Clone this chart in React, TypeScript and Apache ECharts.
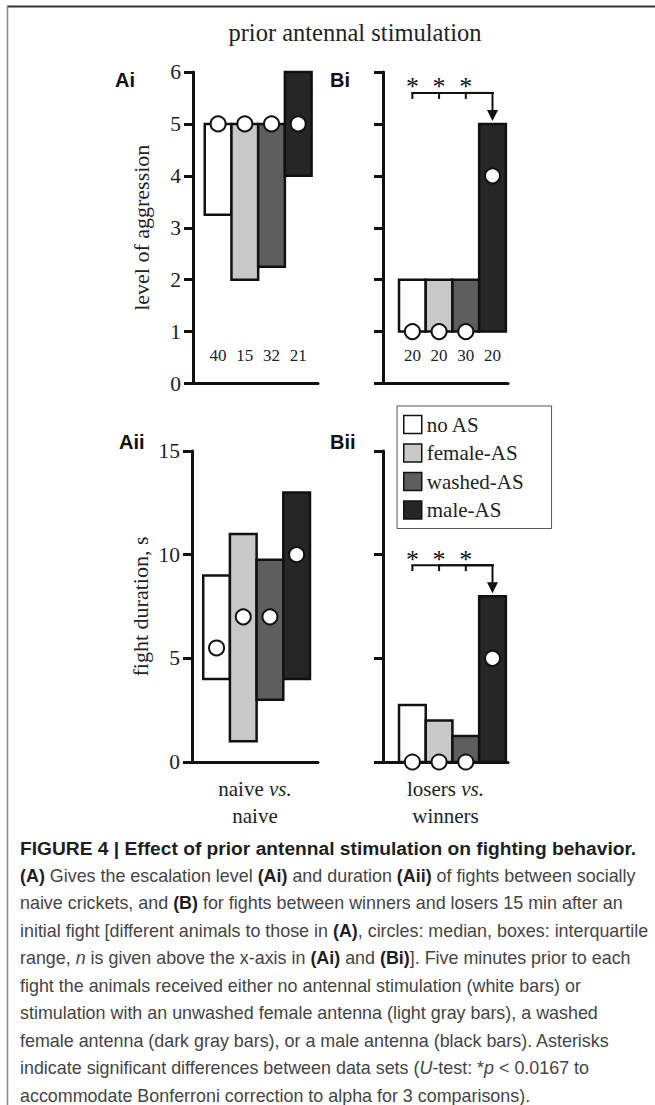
import React, { useEffect, useRef } from "react";
import * as echarts from "echarts";

// ---------- data ----------
const groups = ["no AS", "female-AS", "washed-AS", "male-AS"];
const groupColors = ["#ffffff", "#c8c8c8", "#5e5e5e", "#262626"];

// Ai: level of aggression, naive vs. naive
const aiQ1 = [3.25, 2, 2.25, 4];
const aiQ3 = [5, 5, 5, 6];
const aiMedian = [5, 5, 5, 5];
const aiN = [40, 15, 32, 21];

// Bi: level of aggression, losers vs. winners
const biQ1 = [1, 1, 1, 1];
const biQ3 = [2, 2, 2, 5];
const biMedian = [1, 1, 1, 4];
const biN = [20, 20, 30, 20];
const biSig = [0, 1, 2]; // groups significantly different from male-AS

// Aii: fight duration (s), naive vs. naive
const aiiQ1 = [4, 1, 3, 4];
const aiiQ3 = [9, 11, 9.75, 13];
const aiiMedian = [5.5, 7, 7, 10];

// Bii: fight duration (s), losers vs. winners
const biiQ1 = [0, 0, 0, 0];
const biiQ3 = [2.75, 2, 1.25, 8];
const biiMedian = [0, 0, 0, 5];
const biiSig = [0, 1, 2];

const aggressionAxis = { min: 0, max: 6, interval: 1 };
const durationAxis = { min: 0, max: 15, interval: 5 };

const captionLines = [
  "{h|FIGURE 4 | Effect of prior antennal stimulation on fighting behavior.}",
  "{b|(A)} Gives the escalation level {b|(Ai)} and duration {b|(Aii)} of fights between socially",
  "naive crickets, and {b|(B)} for fights between winners and losers 15 min after an",
  "initial fight [different animals to those in {b|(A)}, circles: median, boxes: interquartile",
  "range, {i|n} is given above the x-axis in {b|(Ai)} and {b|(Bi)}]. Five minutes prior to each",
  "fight the animals received either no antennal stimulation (white bars) or",
  "stimulation with an unwashed female antenna (light gray bars), a washed",
  "female antenna (dark gray bars), or a male antenna (black bars). Asterisks",
  "indicate significant differences between data sets ({i|U}-test: *{i|p} < 0.0167 to",
  "accommodate Bonferroni correction to alpha for 3 comparisons).",
];

const SERIF = "'Liberation Serif', 'Times New Roman', serif";
const SANS = "'Liberation Sans', Arial, sans-serif";
const INK = "#111";
const CAP = 17.9;

function buildOption() {
  const panels = [
    { q1: aiQ1, q3: aiQ3, med: aiMedian, n: aiN as number[] | null, sig: [] as number[], axis: aggressionAxis },
    { q1: biQ1, q3: biQ3, med: biMedian, n: biN as number[] | null, sig: biSig, axis: aggressionAxis },
    { q1: aiiQ1, q3: aiiQ3, med: aiiMedian, n: null, sig: [] as number[], axis: durationAxis },
    { q1: biiQ1, q3: biiQ3, med: biiMedian, n: null, sig: biiSig, axis: durationAxis },
  ];
  const grid = [
    { left: 193, top: 72, width: 125, height: 311.5 },
    { left: 383, top: 72, width: 125, height: 311.5 },
    { left: 192, top: 451, width: 126, height: 311 },
    { left: 383, top: 451, width: 125, height: 311 },
  ];
  const xRanges = [
    [-0.94, 3.74],
    [-1.1, 3.58],
    [-0.92, 3.8],
    [-1.1, 3.58],
  ];
  const xNames = ["", "", "naive {i|vs.}\nnaive", "losers {i|vs.}\nwinners"];
  const yNames = ["level of aggression", "", "fight duration, s", ""];

  const xAxis = grid.map((_, i) => ({
    type: "value",
    gridIndex: i,
    min: xRanges[i][0],
    max: xRanges[i][1],
    axisLine: { show: true, onZero: false, lineStyle: { color: INK, width: 3 } },
    axisTick: { show: false },
    axisLabel: { show: false },
    splitLine: { show: false },
    name: xNames[i],
    nameLocation: "middle",
    nameGap: 13,
    nameTextStyle: {
      fontFamily: SERIF,
      fontSize: 21,
      color: "#222",
      lineHeight: 27,
      rich: { i: { fontFamily: SERIF, fontSize: 21, fontStyle: "italic", color: "#222", lineHeight: 27 } },
    },
  }));

  const yAxis = grid.map((_, i) => ({
    type: "value",
    gridIndex: i,
    min: panels[i].axis.min,
    max: panels[i].axis.max,
    interval: panels[i].axis.interval,
    axisLine: { show: true, onZero: false, lineStyle: { color: INK, width: 3 } },
    axisTick: { show: true, length: 9, lineStyle: { color: INK, width: 3 } },
    axisLabel: { show: i === 0 || i === 2, margin: 12, fontFamily: SERIF, fontSize: 21.5, color: "#222" },
    splitLine: { show: false },
    name: yNames[i],
    nameLocation: "middle",
    nameGap: 41,
    nameRotate: 90,
    nameTextStyle: { fontFamily: SERIF, fontSize: 22, color: "#222" },
  }));

  const series: any[] = [];
  panels.forEach((p, pi) => {
    groups.forEach((g, gi) => {
      series.push({
        type: "custom",
        name: g,
        xAxisIndex: pi,
        yAxisIndex: pi,
        itemStyle: { color: groupColors[gi], borderColor: INK },
        data: [[gi, p.q1[gi], p.q3[gi]]],
        encode: { x: 0, y: [1, 2] },
        z: 2,
        silent: true,
        renderItem: (params: any, api: any) => {
          const x = api.value(0);
          const top = api.coord([x, api.value(2)]);
          const bot = api.coord([x, api.value(1)]);
          const w = api.size([1, 0])[0];
          return {
            type: "rect",
            shape: { x: top[0] - w / 2, y: top[1], width: w, height: bot[1] - top[1] },
            style: { fill: groupColors[gi], stroke: INK, lineWidth: 2.5 },
          };
        },
      });
    });
    series.push({
      type: "scatter",
      xAxisIndex: pi,
      yAxisIndex: pi,
      data: p.med.map((m, gi) => [gi, m]),
      symbol: "circle",
      symbolSize: 15,
      itemStyle: { color: "#fff", borderColor: INK, borderWidth: 2, opacity: 1 },
      z: 5,
      silent: true,
    });
    if (p.n) {
      const nArr = p.n;
      series.push({
        type: "custom",
        xAxisIndex: pi,
        yAxisIndex: pi,
        data: nArr.map((n, gi) => [gi, 0, n]),
        encode: { x: 0, y: 1 },
        z: 6,
        silent: true,
        renderItem: (params: any, api: any) => {
          const pt = api.coord([api.value(0), api.value(1)]);
          return {
            type: "text",
            x: pt[0],
            y: pt[1] - 28,
            style: {
              text: String(api.value(2)),
              align: "center",
              verticalAlign: "middle",
              fontFamily: SERIF,
              fontSize: 17,
              fill: "#222",
            },
          };
        },
      });
    }
    if (p.sig.length) {
      const target = 3;
      series.push({
        type: "custom",
        xAxisIndex: pi,
        yAxisIndex: pi,
        data: p.sig.map((gi) => [gi, target, p.q3[target]]),
        encode: { x: 0, y: 2 },
        z: 6,
        silent: true,
        renderItem: (params: any, api: any) => {
          const src = api.coord([api.value(0), api.value(2)]);
          const tgt = api.coord([api.value(1), api.value(2)]);
          const by = tgt[1] - 31;
          const ls = { stroke: INK, lineWidth: 2 };
          const children: any[] = [
            { type: "line", shape: { x1: src[0] - 1, y1: by, x2: tgt[0] + 1, y2: by }, style: ls },
            { type: "line", shape: { x1: src[0], y1: by, x2: src[0], y2: by + 6 }, style: ls },
            {
              type: "text",
              x: src[0],
              y: by - 6,
              style: { text: "*", align: "center", verticalAlign: "middle", fontFamily: SERIF, fontSize: 26, fill: INK },
            },
          ];
          if (params.dataIndex === 0) {
            children.push({ type: "line", shape: { x1: tgt[0], y1: by, x2: tgt[0], y2: tgt[1] - 12 }, style: ls });
            children.push({
              type: "polygon",
              shape: { points: [[tgt[0] - 5.5, tgt[1] - 14], [tgt[0] + 5.5, tgt[1] - 14], [tgt[0], tgt[1] - 3]] },
              style: { fill: INK },
            });
          }
          return { type: "group", children };
        },
      });
    }
  });

  const graphic: any[] = [
    { type: "line", shape: { x1: 7, y1: 6.5, x2: 655, y2: 6.5 }, style: { stroke: "#333", lineWidth: 2 } },
    { type: "line", shape: { x1: 7.5, y1: 6, x2: 7.5, y2: 1105 }, style: { stroke: "#888", lineWidth: 1.5 } },
    {
      type: "text",
      x: 355,
      y: 32,
      style: { text: "prior antennal stimulation", align: "center", verticalAlign: "middle", fontFamily: SERIF, fontSize: 24.5, fill: "#222" },
    },
  ];
  const panelLabels = [
    ["Ai", 115, 80],
    ["Bi", 330, 80],
    ["Aii", 119, 442],
    ["Bii", 330, 442],
  ];
  panelLabels.forEach(([t, x, y]) => {
    graphic.push({
      type: "text",
      x,
      y,
      style: { text: t, align: "left", verticalAlign: "middle", fontFamily: SANS, fontWeight: "bold", fontSize: 20, fill: INK },
    });
  });
  captionLines.forEach((line, i) => {
    graphic.push({
      type: "text",
      x: 20,
      y: 848 + i * 27.5,
      style: {
        text: line,
        align: "left",
        verticalAlign: "middle",
        fontFamily: SANS,
        fontSize: CAP,
        fill: "#444",
        rich: {
          h: { fontFamily: SANS, fontSize: 19.2, fontWeight: "bold", fill: "#1e1e1e" },
          b: { fontFamily: SANS, fontSize: CAP, fontWeight: "bold", fill: "#1e1e1e" },
          i: { fontFamily: SANS, fontSize: CAP, fontStyle: "italic", fill: "#444" },
        },
      },
    });
  });

  return {
    animation: false,
    backgroundColor: "#ffffff",
    grid,
    xAxis,
    yAxis,
    legend: {
      orient: "vertical",
      left: 397,
      top: 406,
      padding: [8, 28, 8, 6],
      itemGap: 7.5,
      itemWidth: 18,
      itemHeight: 18,
      borderColor: "#555",
      borderWidth: 1,
      selectedMode: false,
      icon: "rect",
      data: groups.map((g, i) => ({
        name: g,
        icon: "rect",
        itemStyle: { color: groupColors[i], borderColor: INK, borderWidth: 1.5 },
      })),
      textStyle: { fontFamily: SERIF, fontSize: 21, color: "#222" },
    },
    series,
    graphic,
  };
}

export default function App() {
  const ref = useRef<HTMLDivElement>(null);
  useEffect(() => {
    if (!ref.current) return;
    const chart = echarts.init(ref.current, undefined, { renderer: "svg" });
    chart.setOption(buildOption() as any);
    return () => chart.dispose();
  }, []);
  return (
    <div
      ref={ref}
      style={{ position: "absolute", left: 0, top: 0, width: 655, height: 1105, background: "#fff" }}
    />
  );
}
